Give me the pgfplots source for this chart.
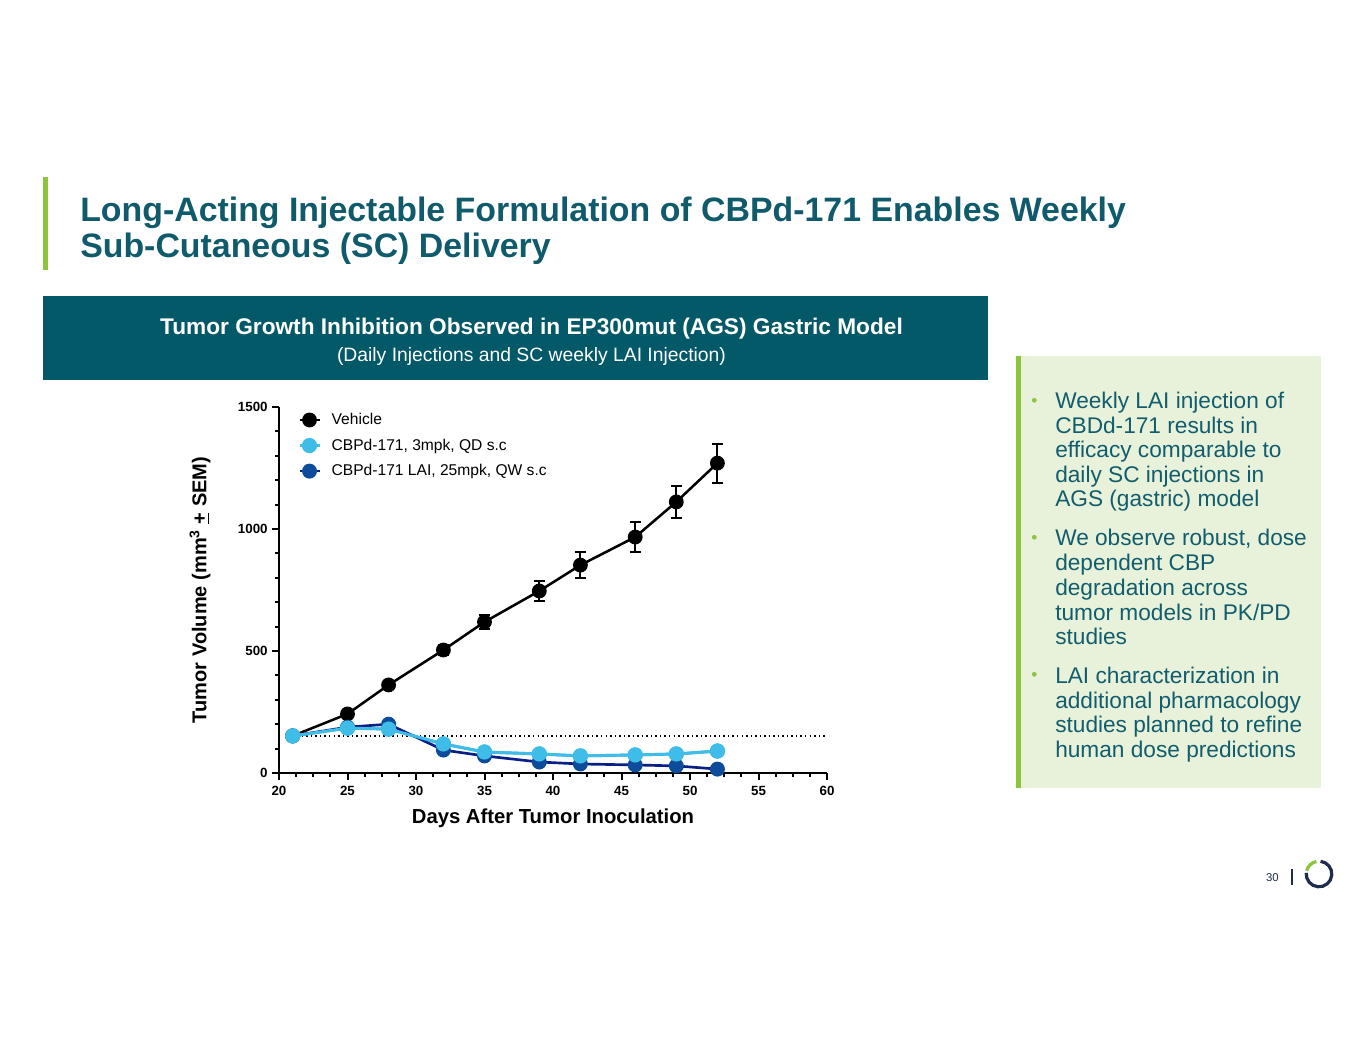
\documentclass[border=0pt]{standalone}
\usepackage{pgfplots}
\usepackage{pgfplotstable}
\pgfplotsset{compat=1.18}
\usepackage{fontspec}
\setmainfont{Liberation Sans}
\definecolor{titleC}{HTML}{0F5A6B}
\definecolor{bannerC}{HTML}{045968}
\definecolor{bulletC}{HTML}{125D6C}
\definecolor{greenC}{HTML}{8CC43F}
\definecolor{boxC}{HTML}{E8F2DB}
\definecolor{lightB}{HTML}{3FBCE8}
\definecolor{darkB}{HTML}{0D4C9A}
\definecolor{darkL}{HTML}{0A1F86}
\definecolor{navyC}{HTML}{1E2D4F}

\pgfplotstableread{
d v e
21 152 6
25 242 10
28 361 10
32 504 20
35 619 30
39 746 42
42 852 52
46 967 60
49 1111 65
52 1270 80
}\vehicle
\pgfplotstableread{
d v
21 152
25 184
28 180
32 119
35 86
39 78
42 70
46 74
49 78
52 90
}\qd
\pgfplotstableread{
d v
21 152
25 188
28 200
32 94
35 70
39 45
42 37
46 33
49 29
52 16
}\lai

\begin{document}
\begin{tikzpicture}
\begin{scope}[x=0.75pt,y=-0.75pt]
\fill[white] (0,0) rectangle (1365,1055);
% title
\fill[greenC] (43,177) rectangle (47.5,270);
\node[anchor=base west, inner sep=0, text=titleC, font=\fontsize{25.4}{30}\selectfont\bfseries] at (80,222) {Long-Acting Injectable Formulation of CBPd-171 Enables Weekly};
\node[anchor=base west, inner sep=0, text=titleC, font=\fontsize{25.4}{30}\selectfont\bfseries] at (80,258) {Sub-Cutaneous (SC) Delivery};
% banner
\fill[bannerC] (43,296) rectangle (988,380);
\node[anchor=base, inner sep=0, text=white, font=\fontsize{17}{20}\selectfont\bfseries] at (531.5,335) {Tumor Growth Inhibition Observed in EP300mut (AGS) Gastric Model};
\node[anchor=base, inner sep=0, text=white, font=\fontsize{14.5}{17}\selectfont] at (531.5,362) {(Daily Injections and SC weekly LAI Injection)};
% right box
\fill[boxC] (1016,356) rectangle (1321,788);
\fill[greenC] (1016,356) rectangle (1020.5,788);
\begin{scope}[every node/.style={anchor=base west, inner sep=0, text=bulletC, font=\fontsize{17}{18.4}\selectfont}]
\node at (1055,409) {Weekly LAI injection of};
\node at (1055,434) {CBDd-171 results in};
\node at (1055,458) {efficacy comparable to};
\node at (1055,483) {daily SC injections in};
\node at (1055,507) {AGS (gastric) model};
\node at (1055,546) {We observe robust, dose};
\node at (1055,571) {dependent CBP};
\node at (1055,595) {degradation across};
\node at (1055,620) {tumor models in PK/PD};
\node at (1055,644) {studies};
\node at (1055,683) {LAI characterization in};
\node at (1055,708) {additional pharmacology};
\node at (1055,732) {studies planned to refine};
\node at (1055,757) {human dose predictions};
\node[text=greenC, font=\fontsize{13}{14}\selectfont] at (1031,407) {•};
\node[text=greenC, font=\fontsize{13}{14}\selectfont] at (1031,544) {•};
\node[text=greenC, font=\fontsize{13}{14}\selectfont] at (1031,681) {•};
\end{scope}
% footer
\node[anchor=base east, inner sep=0, text=navyC, font=\fontsize{8.5}{10}\selectfont] at (1279,881) {30};
\draw[navyC, line width=0.9pt] (1292,869) -- (1292,885);
\end{scope}
% logo
\draw[navyC, line width=2.4pt] (989.25pt,-655.5pt) ++(175:9.6pt) arc[start angle=175, end angle=443, radius=9.6pt];
\draw[greenC, line width=2.4pt] (989.25pt,-655.5pt) ++(102:9.6pt) arc[start angle=102, end angle=165, radius=9.6pt];

\begin{axis}[
  at={(209.25pt,-579.75pt)}, anchor=south west,
  scale only axis, width=411pt, height=274.5pt,
  xmin=20, xmax=60, ymin=0, ymax=1500,
  axis x line*=bottom, axis y line*=left,
  axis line style={-, line width=1.8pt, black},
  xtick={20,25,...,60}, ytick={0,500,1000,1500},
  minor x tick num=3, minor y tick num=4,
  tick align=outside,
  major tick length=5pt, minor tick length=3pt,
  every tick/.style={black, line width=1.5pt},
  ticklabel style={font=\fontsize{10}{12}\selectfont\bfseries},
  xticklabel style={yshift=-1.5pt},
  /pgf/number format/assume math mode=true,
  /pgf/number format/1000 sep={},
  xlabel={Days After Tumor Inoculation},
  ylabel={Tumor Volume (mm\textsuperscript{3} \underline{+} SEM)},
  xlabel style={at={(axis description cs:0.5,-0.123)}, anchor=center, font=\fontsize{15.2}{18}\selectfont\bfseries},
  ylabel style={at={(axis description cs:-0.144,0.5)}, anchor=center, font=\fontsize{15}{18}\selectfont\bfseries},
  legend style={at={(axis description cs:0.027,0.998)}, anchor=north west, draw=none, fill=none,
    font=\fontsize{11.7}{13}\selectfont, row sep=5.2pt,
    /tikz/every odd column/.append style={column sep=6pt}},
  legend cell align=left,
  legend image code/.code={\draw[mark repeat=2,mark phase=2] plot coordinates {(0pt,0pt)(7.5pt,0pt)(15pt,0pt)};},
  clip=false,
]
\addplot[black, line width=1pt, dash pattern=on 1.1pt off 2.3pt, forget plot] coordinates {(21,152) (60,152)};
\addplot[black, line width=1.9pt, mark=*, mark size=4.6pt, mark options={solid, fill=black},
  error bars/.cd, y dir=both, y explicit,
  error bar style={line width=1.4pt, black},
  error mark options={rotate=90, mark size=4.2pt, line width=1.4pt, black}]
  table[x=d, y=v, y error=e] {\vehicle};
\addlegendentry{Vehicle}
\addplot[lightB, line width=2.2pt, mark=*, mark size=4.6pt, mark options={solid, fill=lightB, draw=lightB}]
  table[x=d, y=v] {\qd};
\addlegendentry{CBPd-171, 3mpk, QD s.c}
\addplot[darkL, line width=2pt, mark=*, mark size=4.6pt, mark options={solid, fill=darkB, draw=darkB}]
  table[x=d, y=v] {\lai};
\addlegendentry{CBPd-171 LAI, 25mpk, QW s.c}
\addplot[lightB, line width=2.2pt, mark=*, mark size=4.6pt, mark options={solid, fill=lightB, draw=lightB}, forget plot]
  table[x=d, y=v] {\qd};
\end{axis}
\end{tikzpicture}
\end{document}
